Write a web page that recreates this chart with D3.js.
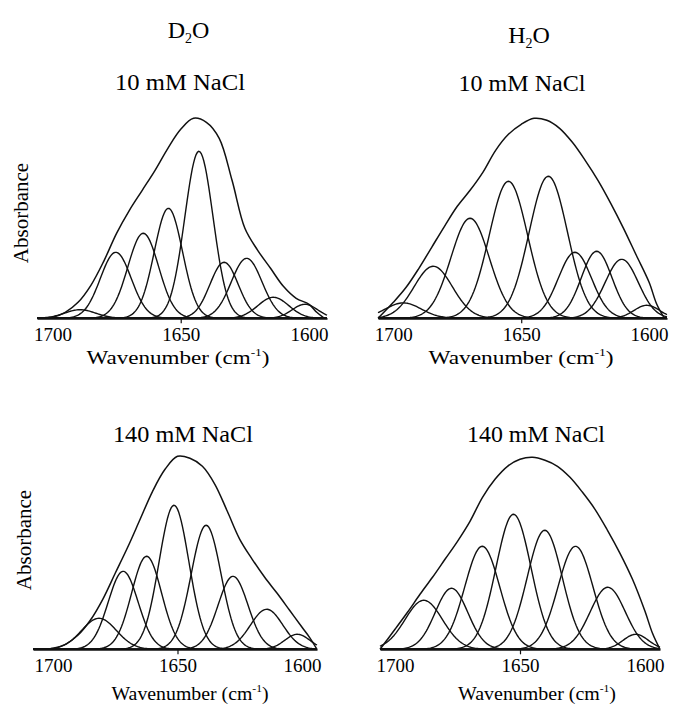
<!DOCTYPE html>
<html>
<head>
<meta charset="utf-8">
<script src="https://cdn.jsdelivr.net/npm/d3@7"></script>
<style>
  body { margin: 0; background: #fff; }
  svg text { font-family: "Liberation Serif", serif; fill: #000; }
  .band { fill: none; stroke: #111; stroke-width: 1.4; }
  .envelope { fill: none; stroke: #111; stroke-width: 1.5; }
  .axis path { stroke: #111; stroke-width: 1.8; }
  .axis line { stroke: #111; stroke-width: 1.2; }
  .axis text { font-size: 19px; font-family: "Liberation Serif", serif; }
</style>
</head>
<body>
<svg id="chart" width="673" height="704"></svg>
<script>
// tick labels on every wavenumber axis
const tickValues = [1700, 1650, 1600];

const envelopeGrid = [1706, 1700, 1695, 1690, 1685, 1680, 1675, 1670, 1665, 1660, 1655, 1650,
                      1645, 1640, 1635, 1630, 1625, 1620, 1615, 1610, 1605, 1600, 1597, 1594];

// D2O, 10 mM NaCl
const d2o10Envelope = [0, 0.5, 3, 8, 16.5, 28.5, 42.5, 54, 64, 74, 85, 94.5,
                       100, 98, 90, 69, 45, 34, 25, 16, 10, 7, 3, 0];
const d2o10Centers = [1689.2, 1675.3, 1664.6, 1654.8, 1642.9, 1633.1, 1624.3, 1613.9, 1601.6];
const d2o10Heights = [4.3, 33, 42.5, 55, 83.5, 28, 30, 10.5, 7];
const d2o10Widths  = [6, 6, 6, 5.5, 5.5, 5.5, 6, 6, 5];

// H2O, 10 mM NaCl
const h2o10Envelope = [0, 8, 15.5, 25, 35.5, 46, 56, 64, 73, 84, 92, 97,
                       100, 99, 95, 88, 79, 69, 57.5, 45, 31.5, 18, 7, 0];
const h2o10Centers = [1696.1, 1684.4, 1670, 1655, 1639.4, 1629, 1620.5, 1610.7, 1600.9];
const h2o10Heights = [7.7, 26, 50, 68.5, 71, 33, 33.5, 29.5, 6.5];
const h2o10Widths  = [7, 7.5, 7.5, 7.5, 7.5, 6.5, 6, 6.5, 5];

// D2O, 140 mM NaCl
const d2o140Envelope = [0, 0.5, 2.5, 7, 14.5, 25, 38, 51, 65, 79, 90, 96.5,
                        95.5, 91.5, 82.5, 69, 55, 45, 36, 28, 19.5, 11, 6, 0];
const d2o140Centers = [1681.5, 1671.8, 1662.4, 1651.4, 1638.5, 1627.7, 1614.2, 1601.9];
const d2o140Heights = [15.5, 39, 46.5, 72, 62, 36.5, 20, 7.5];
const d2o140Widths  = [7, 6, 6, 6, 6, 6, 6.5, 5];

// H2O, 140 mM NaCl
const h2o140Envelope = [0, 10, 18.5, 27.5, 36, 45, 54, 64, 76, 85, 91.5, 95,
                        96, 94.5, 91.5, 86, 78.5, 70, 59.5, 48, 35, 19, 8, 0];
const h2o140Centers = [1688.5, 1677.4, 1665.1, 1652.6, 1640.1, 1627.8, 1614.9, 1603.7];
const h2o140Heights = [24.5, 30.5, 51.5, 67.5, 59.5, 51.5, 31, 7.5];
const h2o140Widths  = [7.5, 6.5, 7, 7, 7, 7, 7, 5];

let panels = [
  {envelope: d2o10Envelope, centers: d2o10Centers, heights: d2o10Heights, widths: d2o10Widths,
   title: "10 mM NaCl", left: 37, right: 327, base: 318.3, domain: [1706, 1593],
   titleX: 180, titleY: 90, titleW: 130, labelX: 178, labelY: 364, labelW: 183, absorbance: [28, 213]},
  {envelope: h2o10Envelope, centers: h2o10Centers, heights: h2o10Heights, widths: h2o10Widths,
   title: "10 mM NaCl", left: 378, right: 667, base: 318.3, domain: [1706, 1593],
   titleX: 522, titleY: 91, titleW: 127, labelX: 521, labelY: 364, labelW: 185, absorbance: null},
  {envelope: d2o140Envelope, centers: d2o140Centers, heights: d2o140Heights, widths: d2o140Widths,
   title: "140 mM NaCl", left: 33, right: 317, base: 649.3, domain: [1708, 1594],
   titleX: 183, titleY: 442, titleW: 140, labelX: 190, labelY: 700, labelW: 157, absorbance: [31, 540]},
  {envelope: h2o140Envelope, centers: h2o140Centers, heights: h2o140Heights, widths: h2o140Widths,
   title: "140 mM NaCl", left: 380, right: 660, base: 649.3, domain: [1706, 1594],
   titleX: 536, titleY: 442, titleW: 138, labelX: 537, labelY: 700, labelW: 158, absorbance: null}
];

function band(center, height, width) {
  return wn => height * Math.exp(-((wn - center) ** 2) / (2 * width * width));
}

function drawPanel(svg, p) {
  let x = d3.scaleLinear().domain(p.domain).range([p.left, p.right]),
      y = d3.scaleLinear().domain([0, 100]).range([p.base, p.base - 200]),
      g = svg.append("g");

  let samples = d3.range(p.domain[0], p.domain[1], -0.5).concat([p.domain[1]]);
  let line = d3.line().x(d => x(d[0])).y(d => y(d[1]));

  p.centers.forEach((c, i) => {
    let f = band(c, p.heights[i], p.widths[i]);
    g.append("path")
      .attr("class", "band")
      .attr("d", line(samples.map(wn => [wn, f(wn)])));
  });

  g.append("path")
    .attr("class", "envelope")
    .attr("d", line.curve(d3.curveCatmullRom.alpha(0.5))(envelopeGrid.map((wn, i) => [wn, p.envelope[i]])));

  let axis = g.append("g")
    .attr("class", "axis")
    .attr("transform", `translate(0, ${p.base})`)
    .call(d3.axisBottom(x).tickValues(tickValues).tickFormat(d3.format("d"))
      .tickSizeOuter(0).tickSizeInner(5).tickPadding(4));
  axis.selectAll(".tick line").attr("opacity", d => d == 1650 ? 1 : 0);

  g.append("text")
    .attr("x", p.titleX).attr("y", p.titleY)
    .attr("text-anchor", "middle")
    .attr("font-size", 23)
    .attr("textLength", p.titleW).attr("lengthAdjust", "spacingAndGlyphs")
    .text(p.title);

  let label = g.append("text")
    .attr("x", p.labelX).attr("y", p.labelY)
    .attr("text-anchor", "middle")
    .attr("font-size", 19)
    .attr("textLength", p.labelW).attr("lengthAdjust", "spacingAndGlyphs");
  label.append("tspan").text("Wavenumber (cm");
  label.append("tspan").attr("font-size", 11).attr("dy", -8).text("-1");
  label.append("tspan").attr("dy", 8).text(")");

  if (p.absorbance) {
    g.append("text")
      .attr("transform", `translate(${p.absorbance[0]}, ${p.absorbance[1]}) rotate(-90)`)
      .attr("text-anchor", "middle")
      .attr("font-size", 21)
      .text("Absorbance");
  }
}

function solvent(svg, name, cx, cy) {
  let t = svg.append("text")
    .attr("x", cx).attr("y", cy)
    .attr("text-anchor", "middle")
    .attr("font-size", 24);
  t.append("tspan").text(name);
  t.append("tspan").attr("font-size", 14).attr("dy", 5).text("2");
  t.append("tspan").attr("dy", -5).text("O");
}

let svg = d3.select("#chart");
svg.append("rect").attr("width", 673).attr("height", 704).attr("fill", "#fff");
panels.forEach(p => drawPanel(svg, p));
solvent(svg, "D", 188.5, 37.5);
solvent(svg, "H", 529, 43);
</script>
</body>
</html>
